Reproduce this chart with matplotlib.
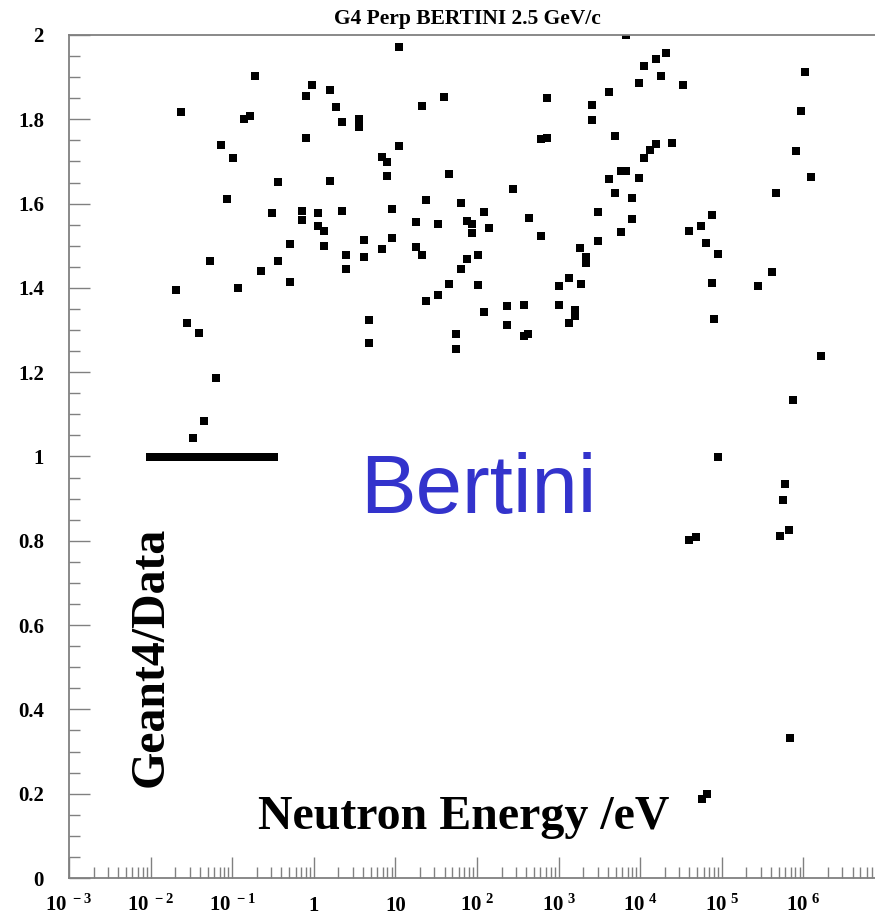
import numpy as np
import matplotlib
matplotlib.use("Agg")
import matplotlib.pyplot as plt
from matplotlib.ticker import FixedLocator, LogLocator, MultipleLocator, FormatStrFormatter, NullFormatter

plt.rcParams['font.family'] = 'Liberation Serif'
plt.rcParams['font.weight'] = 'bold'
plt.rcParams['mathtext.fontset'] = 'custom'
plt.rcParams['mathtext.rm'] = 'Liberation Serif:bold'
plt.rcParams['mathtext.it'] = 'Liberation Serif:bold'
plt.rcParams['mathtext.bf'] = 'Liberation Serif:bold'

# DATA (log10 of neutron energy in eV, and Geant4/Data ratio)
log_energy_flat = [-2.01, -1.97, -1.93, -1.90, -1.86, -1.82, -1.79, -1.75, -1.71,
                   -1.65, -1.59, -1.53, -1.47, -1.41, -1.34, -1.28, -1.22, -1.16,
                   -1.10, -1.04, -0.98, -0.92, -0.85, -0.79, -0.73, -0.67, -0.61,
                   -0.55, -0.49]
ratio_flat = [1.0] * len(log_energy_flat)

log_energy = [-1.69, -1.63, -1.55, -1.48, -1.41, -1.34, -1.27, -1.20, -1.14, -1.06,
              -0.99, -0.93, -0.85, -0.78, -0.72, -0.65, -0.51, -0.44, -0.44, -0.29,
              -0.29, -0.15, -0.15, -0.09, -0.09, -0.02, 0.05, 0.05, 0.13, 0.13,
              0.20, 0.20, 0.27, 0.34, 0.34, 0.40, 0.40, 0.55, 0.55, 0.62,
              0.62, 0.68, 0.68, 0.83, 0.83, 0.90, 0.90, 0.96, 0.96, 1.04,
              1.04, 1.25, 1.25, 1.32, 1.32, 1.38, 1.38, 1.52, 1.52, 1.59,
              1.66, 1.66, 1.74, 1.74, 1.81, 1.81, 1.88, 1.88, 1.94, 1.94,
              2.01, 2.01, 2.08, 2.08, 2.15, 2.37, 2.37, 2.44, 2.58, 2.58,
              2.62, 2.64, 2.79, 2.79, 2.86, 2.86, 3.00, 3.00, 3.13, 3.13,
              3.20, 3.20, 3.26, 3.27, 3.34, 3.34, 3.41, 3.41, 3.48, 3.48,
              3.62, 3.62, 3.69, 3.69, 3.76, 3.76, 3.83, 3.83, 3.90, 3.90,
              3.98, 3.98, 4.05, 4.05, 4.12, 4.19, 4.19, 4.25, 4.32, 4.39,
              4.53, 4.60, 4.60, 4.68, 4.75, 4.76, 4.81, 4.82, 4.88, 4.88,
              4.91, 4.95, 4.95, 5.44, 5.62, 5.66, 5.71, 5.75, 5.78, 5.82,
              5.84, 5.87, 5.91, 5.97, 6.02, 6.09, 6.22]
ratio = [1.395, 1.817, 1.317, 1.043, 1.293, 1.085, 1.465, 1.187, 1.739, 1.610,
         1.709, 1.399, 1.800, 1.807, 1.902, 1.440, 1.578, 1.651, 1.465, 1.503,
         1.414, 1.582, 1.562, 1.855, 1.756, 1.882, 1.577, 1.546, 1.536, 1.499,
         1.869, 1.654, 1.829, 1.794, 1.583, 1.478, 1.445, 1.801, 1.782, 1.513,
         1.474, 1.323, 1.269, 1.710, 1.493, 1.699, 1.665, 1.518, 1.588, 1.972,
         1.737, 1.557, 1.497, 1.832, 1.477, 1.608, 1.369, 1.552, 1.384, 1.854,
         1.670, 1.410, 1.291, 1.255, 1.601, 1.446, 1.558, 1.469, 1.552, 1.531,
         1.478, 1.406, 1.580, 1.344, 1.542, 1.358, 1.313, 1.635, 1.359, 1.286,
         1.290, 1.566, 1.753, 1.522, 1.851, 1.756, 1.405, 1.359, 1.424, 1.316,
         1.348, 1.333, 1.494, 1.409, 1.474, 1.459, 1.834, 1.799, 1.581, 1.512,
         1.865, 1.659, 1.760, 1.625, 1.677, 1.533, 1.677, 2.000, 1.613, 1.563,
         1.887, 1.661, 1.926, 1.709, 1.726, 1.943, 1.741, 1.902, 1.958, 1.743,
         1.881, 1.534, 0.801, 0.808, 1.548, 0.188, 1.507, 0.199, 1.573, 1.412,
         1.326, 1.480, 0.999, 1.405, 1.437, 1.626, 0.811, 0.897, 0.935, 0.826,
         0.333, 1.133, 1.724, 1.820, 1.912, 1.664, 1.238]

x_ticks = [1e-3, 1e-2, 1e-1, 1, 10, 1e2, 1e3, 1e4, 1e5, 1e6]
x_tick_labels = [r'$10^{\ -3}$', r'$10^{\ -2}$', r'$10^{\ -1}$', '1', '10',
                 r'$10^{\ 2}$', r'$10^{\ 3}$', r'$10^{\ 4}$', r'$10^{\ 5}$', r'$10^{\ 6}$']

fig = plt.figure(figsize=(8.75, 9.15), dpi=100)
ax = fig.add_axes([69/875, 37/915, (885 - 69)/875, 843/915])

ax.plot(10**np.array(log_energy_flat), ratio_flat, 's', color='black', ms=5.5, mew=0)
ax.plot(10**np.array(log_energy), ratio, 's', color='black', ms=5.5, mew=0)

ax.set_xscale('log')
ax.set_xlim(1e-3, 1e7)
ax.set_ylim(0, 2)

axis_gray = '#808080'
for sp in ax.spines.values():
    sp.set_color(axis_gray)
    sp.set_linewidth(1.3)

ax.xaxis.set_major_locator(FixedLocator(x_ticks))
ax.xaxis.set_minor_locator(LogLocator(base=10, subs=np.arange(2, 10), numticks=30))
ax.xaxis.set_minor_formatter(NullFormatter())
ax.set_xticklabels(x_tick_labels)
ax.yaxis.set_major_locator(MultipleLocator(0.2))
ax.yaxis.set_minor_locator(MultipleLocator(0.05))
ax.yaxis.set_major_formatter(FormatStrFormatter('%g'))

ax.tick_params(axis='both', which='both', direction='in', color=axis_gray, width=1,
               top=False, right=False)
ax.tick_params(axis='both', which='major', length=15, labelsize=15)
ax.tick_params(axis='both', which='minor', length=8)
ax.tick_params(axis='y', which='major', pad=18)
ax.tick_params(axis='x', which='major', pad=23.5)
for lbl in ax.get_xticklabels():
    lbl.set_verticalalignment('baseline')

fig.text(467/875, 1 - 19/915, 'G4 Perp BERTINI 2.5 GeV/c', ha='center', va='center',
         fontsize=15.5, fontweight='bold')
fig.text(258/875, (915 - 829)/915, 'Neutron Energy /eV', ha='left', va='baseline',
         fontsize=34.5, fontweight='bold')
fig.text(163/875, (915 - 787)/915, 'Geant4/Data', rotation=90, rotation_mode='anchor',
         ha='left', va='baseline', fontsize=34.5, fontweight='bold')
fig.text(360/875, (915 - 513)/915, 'Bertini', ha='left', va='baseline',
         fontsize=60, color='#3333cc', family='Liberation Sans', fontweight='normal')

fig.savefig('out.png', dpi=100)
